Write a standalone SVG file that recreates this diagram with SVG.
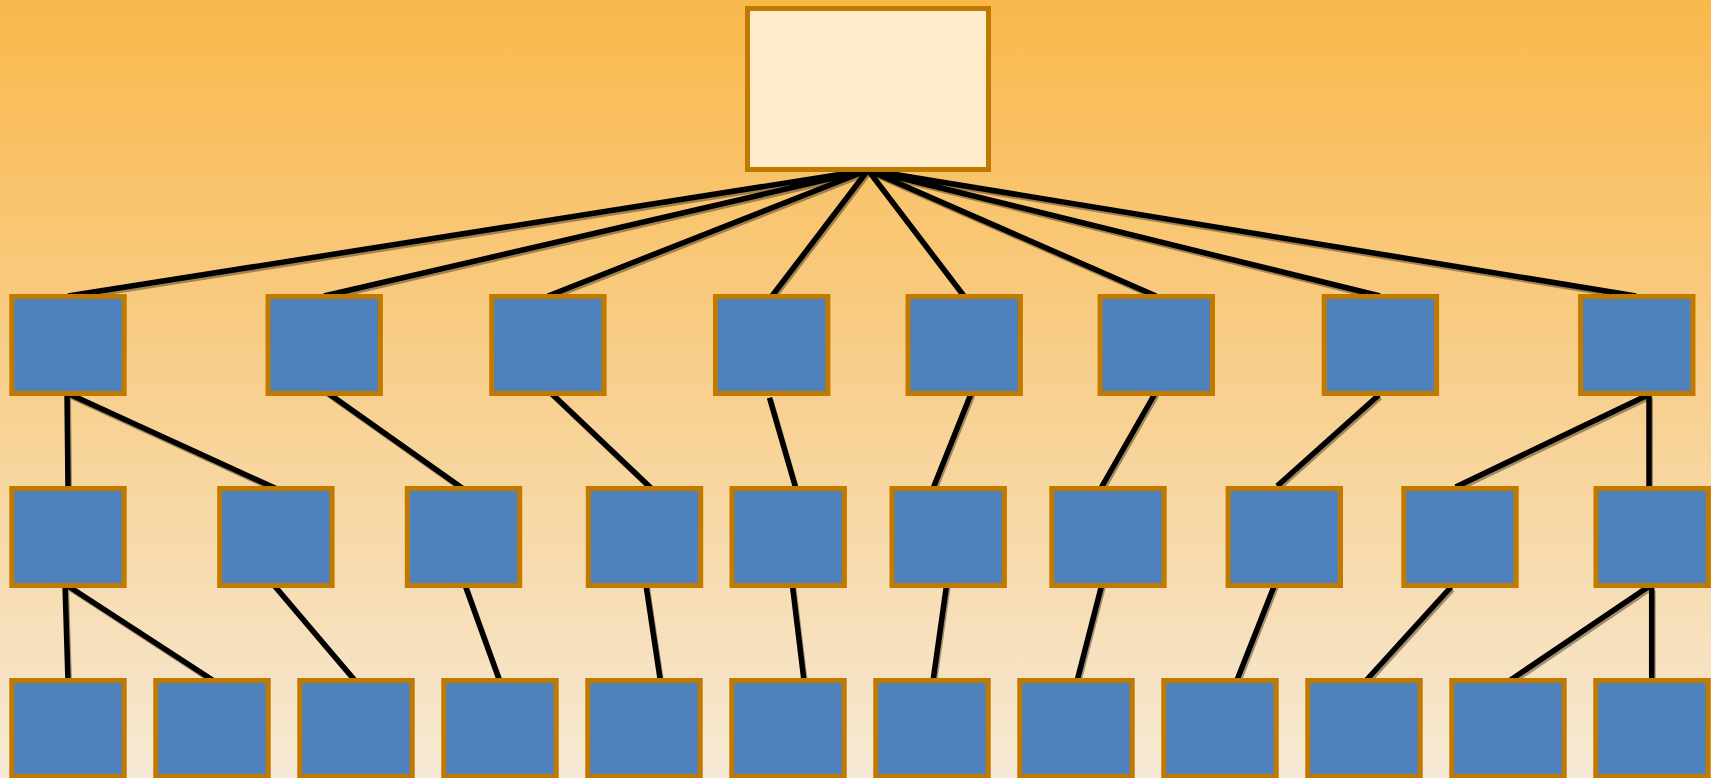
<svg xmlns="http://www.w3.org/2000/svg" width="1711" height="778" viewBox="0 0 1711 778">
  <defs>
    <linearGradient id="bg" x1="0" y1="0" x2="0" y2="1">
      <stop offset="0" stop-color="#FAB84B"/>
      <stop offset="0.5" stop-color="#F8D08F"/>
      <stop offset="1" stop-color="#F6E9D5"/>
    </linearGradient>
  </defs>
  <style>
    .root { fill: #FEEBCA; stroke: #C07A00; stroke-width: 5; }
    .box { fill: #4F81BD; stroke: #C07A00; stroke-width: 5; }
    .edge { stroke: #000; stroke-width: 5.5; fill: none; stroke-linecap: butt; }
    .shadow { stroke: #4a3c26; stroke-width: 5; opacity: 0.5; fill: none; }
  </style>

  <rect x="0" y="0" width="1711" height="778" fill="url(#bg)"/>

  <!-- connectors: shadow pass, then solid pass -->
  <g id="connectors">
    <g class="shadow" transform="translate(1.5,2.5)">
      <path d="M868,170 L68,296 M868,170 L324,296 M868,170 L548,296 M868,170 L772,296 M868,170 L964,296 M868,170 L1156,296 M868,170 L1380,296 M868,170 L1636,296"/>
      <path d="M67,393 L68,488 M67,393 L277,489 M323.6,390 L463.5,489 M550,392 L651,488 M769.5,397.7 L796,489 M971.3,393 L932.4,490 M1155.3,393 L1101,488 M1378.8,395 L1277.2,486 M1648,395 L1455.7,487 M1649,395 L1649,489"/>
      <path d="M65,584 L68,681 M65,584 L214,681 M273,584 L355.4,681 M465,585 L499.7,681 M646,585 L660.4,681 M792,582 L804,681 M947,582 L933,681 M1102,584 L1077,681 M1275,584 L1236.6,681 M1451,587 L1365.6,681 M1648,587 L1509,681 M1651.7,588 L1651.7,681"/>
    </g>
    <g class="edge">
      <path d="M868,170 L68,296 M868,170 L324,296 M868,170 L548,296 M868,170 L772,296 M868,170 L964,296 M868,170 L1156,296 M868,170 L1380,296 M868,170 L1636,296"/>
      <path d="M67,393 L68,488 M67,393 L277,489 M323.6,390 L463.5,489 M550,392 L651,488 M769.5,397.7 L796,489 M971.3,393 L932.4,490 M1155.3,393 L1101,488 M1378.8,395 L1277.2,486 M1648,395 L1455.7,487 M1649,395 L1649,489"/>
      <path d="M65,584 L68,681 M65,584 L214,681 M273,584 L355.4,681 M465,585 L499.7,681 M646,585 L660.4,681 M792,582 L804,681 M947,582 L933,681 M1102,584 L1077,681 M1275,584 L1236.6,681 M1451,587 L1365.6,681 M1648,587 L1509,681 M1651.7,588 L1651.7,681"/>
    </g>
  </g>

  <!-- root -->
  <g id="root"><rect class="root" x="747.5" y="8.5" width="241" height="161"/></g>

  <!-- level 1 -->
  <g id="n1-1"><rect class="box" x="11.8" y="296.5" width="112.4" height="97"/></g>
  <g id="n1-2"><rect class="box" x="268" y="296.5" width="112.4" height="97"/></g>
  <g id="n1-3"><rect class="box" x="491.7" y="296.5" width="112.4" height="97"/></g>
  <g id="n1-4"><rect class="box" x="715.5" y="296.5" width="112.4" height="97"/></g>
  <g id="n1-5"><rect class="box" x="908" y="296.5" width="112.4" height="97"/></g>
  <g id="n1-6"><rect class="box" x="1100.1" y="296.5" width="112.4" height="97"/></g>
  <g id="n1-7"><rect class="box" x="1324.2" y="296.5" width="112.4" height="97"/></g>
  <g id="n1-8"><rect class="box" x="1580.6" y="296.5" width="112.4" height="97"/></g>

  <!-- level 2 -->
  <g id="n2-1"><rect class="box" x="11.8" y="488.5" width="112.4" height="97"/></g>
  <g id="n2-2"><rect class="box" x="219.7" y="488.5" width="112.4" height="97"/></g>
  <g id="n2-3"><rect class="box" x="407.3" y="488.5" width="112.4" height="97"/></g>
  <g id="n2-4"><rect class="box" x="588.3" y="488.5" width="112.4" height="97"/></g>
  <g id="n2-5"><rect class="box" x="732" y="488.5" width="112.4" height="97"/></g>
  <g id="n2-6"><rect class="box" x="892" y="488.5" width="112.4" height="97"/></g>
  <g id="n2-7"><rect class="box" x="1051.8" y="488.5" width="112.4" height="97"/></g>
  <g id="n2-8"><rect class="box" x="1228.1" y="488.5" width="112.4" height="97"/></g>
  <g id="n2-9"><rect class="box" x="1403.8" y="488.5" width="112.4" height="97"/></g>
  <g id="n2-10"><rect class="box" x="1596" y="488.5" width="112.4" height="97"/></g>

  <!-- level 3 -->
  <g id="n3-1"><rect class="box" x="11.8" y="680.5" width="112.4" height="96"/></g>
  <g id="n3-2"><rect class="box" x="155.8" y="680.5" width="112.4" height="96"/></g>
  <g id="n3-3"><rect class="box" x="299.8" y="680.5" width="112.4" height="96"/></g>
  <g id="n3-4"><rect class="box" x="443.8" y="680.5" width="112.4" height="96"/></g>
  <g id="n3-5"><rect class="box" x="587.8" y="680.5" width="112.4" height="96"/></g>
  <g id="n3-6"><rect class="box" x="731.8" y="680.5" width="112.4" height="96"/></g>
  <g id="n3-7"><rect class="box" x="875.8" y="680.5" width="112.4" height="96"/></g>
  <g id="n3-8"><rect class="box" x="1019.8" y="680.5" width="112.4" height="96"/></g>
  <g id="n3-9"><rect class="box" x="1163.8" y="680.5" width="112.4" height="96"/></g>
  <g id="n3-10"><rect class="box" x="1307.8" y="680.5" width="112.4" height="96"/></g>
  <g id="n3-11"><rect class="box" x="1451.8" y="680.5" width="112.4" height="96"/></g>
  <g id="n3-12"><rect class="box" x="1595.8" y="680.5" width="112.4" height="96"/></g>
</svg>
